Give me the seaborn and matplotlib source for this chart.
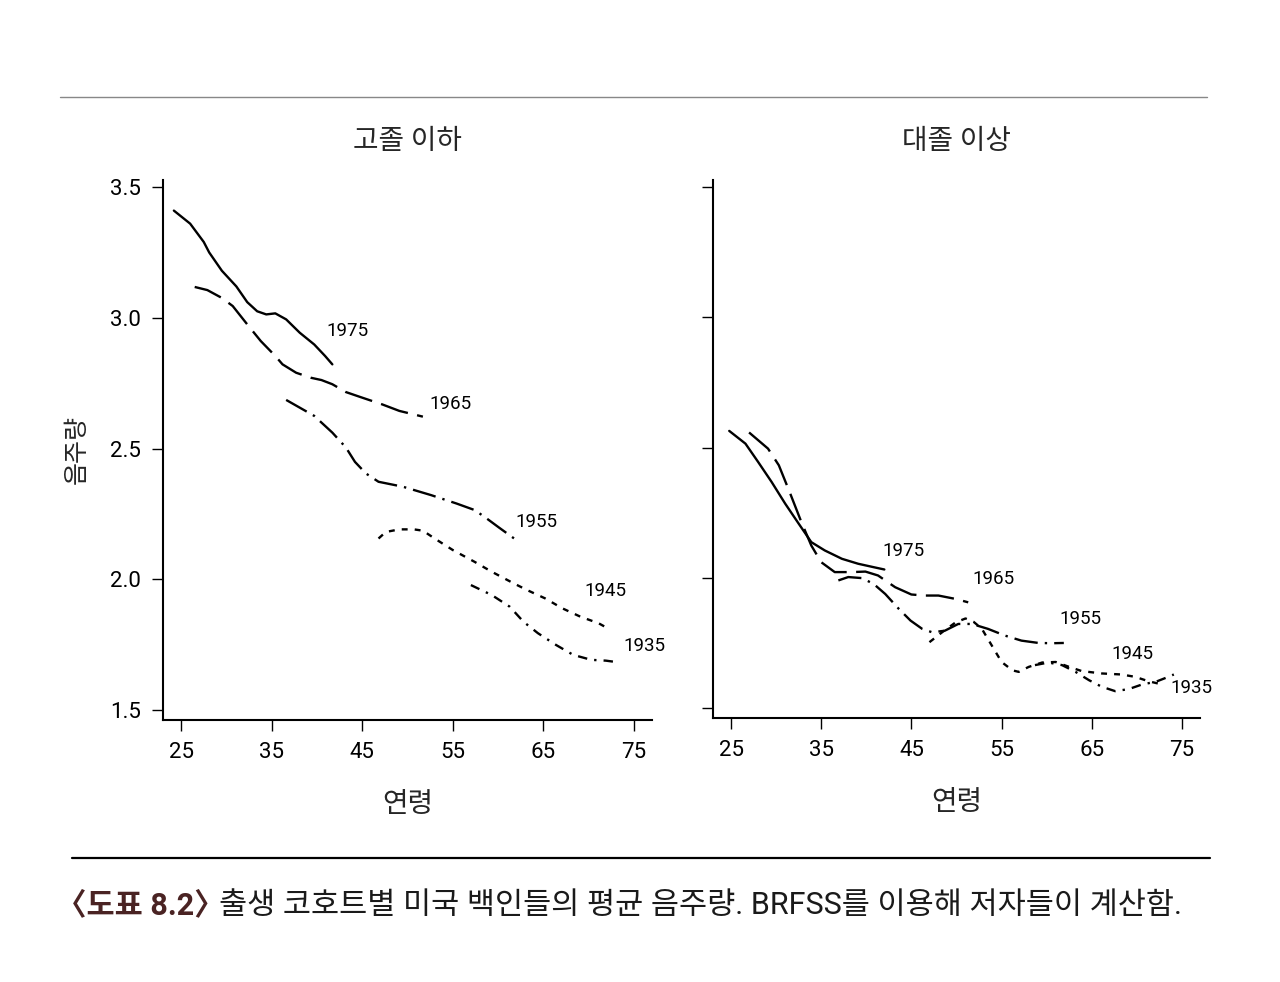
import numpy as np
import pandas as pd
import matplotlib.pyplot as plt
import seaborn as sns

# 출생 코호트별 평균 음주량
cohorts = ["1975", "1965", "1955", "1945", "1935"]

# 고졸 이하
hs_age_1975 = [24.2, 26.0, 27.5, 28.1, 29.5, 31.1, 32.3, 33.4, 34.4, 35.4, 36.6, 38.1, 39.7, 40.9, 41.7]
hs_val_1975 = [3.41, 3.36, 3.29, 3.25, 3.18, 3.12, 3.06, 3.025, 3.013, 3.017, 2.994, 2.943, 2.898, 2.854, 2.822]
hs_age_1965 = [26.5, 27.9, 29.5, 30.7, 32.3, 33.8, 35.4, 36.2, 37.7, 39.3, 40.5, 41.7, 43.2, 44.8, 47.2, 49.1, 51.7]
hs_val_1965 = [3.118, 3.106, 3.076, 3.045, 2.975, 2.911, 2.854, 2.822, 2.79, 2.771, 2.762, 2.746, 2.716, 2.697, 2.669, 2.644, 2.622]
hs_age_1955 = [36.6, 39.7, 41.7, 43.2, 44.2, 45.4, 46.8, 49.5, 52.6, 55.4, 57.4, 58.5, 60.1, 61.9]
hs_val_1955 = [2.686, 2.625, 2.561, 2.504, 2.449, 2.405, 2.373, 2.354, 2.322, 2.29, 2.265, 2.239, 2.198, 2.153]
hs_age_1945 = [46.8, 47.6, 49.1, 50.7, 51.7, 53.0, 55.0, 57.4, 59.3, 61.7, 63.2, 65.2, 67.1, 69.1, 71.1, 72.1]
hs_val_1945 = [2.156, 2.181, 2.191, 2.191, 2.186, 2.156, 2.112, 2.067, 2.029, 1.985, 1.959, 1.927, 1.889, 1.857, 1.832, 1.813]
hs_age_1935 = [57.0, 59.3, 61.3, 62.8, 64.4, 66.4, 68.3, 70.3, 71.9, 73.4]
hs_val_1935 = [1.978, 1.94, 1.895, 1.838, 1.794, 1.749, 1.711, 1.692, 1.689, 1.682]

# 대졸 이상
col_age_1975 = [24.8, 26.6, 28.0, 29.5, 31.0, 32.5, 33.9, 35.4, 37.3, 39.1, 40.8, 42.0]
col_val_1975 = [2.564, 2.515, 2.445, 2.368, 2.285, 2.208, 2.137, 2.105, 2.073, 2.054, 2.041, 2.032]
col_age_1965 = [27.0, 29.1, 30.3, 31.5, 32.8, 33.9, 35.0, 36.5, 38.4, 39.9, 41.3, 43.2, 45.0, 46.5, 48.0, 49.9, 51.3]
col_val_1965 = [2.558, 2.496, 2.432, 2.329, 2.214, 2.124, 2.06, 2.022, 2.022, 2.024, 2.009, 1.964, 1.936, 1.932, 1.932, 1.919, 1.906]
col_age_1955 = [36.9, 38.0, 39.5, 40.8, 42.1, 43.6, 44.9, 46.2, 47.3, 48.7, 50.2, 51.7, 53.5, 55.4, 57.2, 59.1, 60.6, 61.9]
col_val_1955 = [1.99, 2.003, 1.999, 1.977, 1.938, 1.881, 1.836, 1.804, 1.791, 1.797, 1.823, 1.823, 1.804, 1.778, 1.759, 1.75, 1.749, 1.75]
col_age_1945 = [47.0, 48.4, 49.9, 51.0, 51.9, 52.8, 53.9, 55.0, 56.2, 56.9, 58.0, 59.5, 61.0, 62.5, 63.9, 66.1, 68.3, 69.8, 71.3, 72.4]
col_val_1945 = [1.753, 1.791, 1.829, 1.844, 1.831, 1.805, 1.741, 1.677, 1.645, 1.639, 1.658, 1.675, 1.677, 1.658, 1.642, 1.633, 1.629, 1.62, 1.603, 1.594]
col_age_1935 = [58.7, 60.2, 61.7, 63.2, 64.7, 66.1, 67.6, 69.1, 70.6, 72.1, 73.2, 74.1]
col_val_1935 = [1.665, 1.675, 1.665, 1.639, 1.607, 1.582, 1.565, 1.573, 1.591, 1.601, 1.616, 1.629]

hs = {"1975": (hs_age_1975, hs_val_1975), "1965": (hs_age_1965, hs_val_1965),
      "1955": (hs_age_1955, hs_val_1955), "1945": (hs_age_1945, hs_val_1945),
      "1935": (hs_age_1935, hs_val_1935)}
col = {"1975": (col_age_1975, col_val_1975), "1965": (col_age_1965, col_val_1965),
       "1955": (col_age_1955, col_val_1955), "1945": (col_age_1945, col_val_1945),
       "1935": (col_age_1935, col_val_1935)}

x_ticks = [25, 35, 45, 55, 65, 75]
y_ticks = [1.5, 2.0, 2.5, 3.0, 3.5]


def to_frame(d):
    rows = []
    for c, (a, v) in d.items():
        for ai, vi in zip(a, v):
            rows.append({"age": ai, "drink": vi, "cohort": c})
    return pd.DataFrame(rows)


sns.set_theme(style="ticks")
plt.rcParams["font.family"] = ["Roboto", "Noto Sans CJK KR", "DejaVu Sans"]

dash_styles = {"1975": "", "1965": (12, 4), "1955": (10, 3, 1, 3),
               "1945": (2.5, 3), "1935": (4, 3, 1, 3)}
black = {c: "black" for c in cohorts}

# 라벨 위치 (선 끝에서의 픽셀 오프셋)
hs_offsets = {"1975": (15, 33), "1965": (28, 13), "1955": (21, 17), "1945": (-2, 37), "1935": (25, 16)}
col_offsets = {"1975": (19, 18), "1965": (25, 23), "1955": (17, 24), "1945": (-26, 30), "1935": (18, -14)}

fig = plt.figure(figsize=(12.8, 9.82), dpi=100)
ax1 = fig.add_axes([163 / 1280, 1 - 720 / 982, 489 / 1280, 540 / 982])
ax2 = fig.add_axes([713 / 1280, 1 - 718 / 982, 487 / 1280, 538 / 982])

for ax, d, offs, title in [(ax1, hs, hs_offsets, "고졸 이하"), (ax2, col, col_offsets, "대졸 이상")]:
    df = to_frame(d)
    sns.lineplot(data=df, x="age", y="drink", hue="cohort", style="cohort",
                 hue_order=cohorts, style_order=cohorts, palette=black,
                 dashes=dash_styles, linewidth=1.7, estimator=None, sort=True,
                 legend=False, ax=ax)
    for c in cohorts:
        a, v = d[c]
        ax.annotate(c, (a[-1], v[-1]), xytext=offs[c], textcoords="offset pixels",
                    ha="center", va="center", fontsize=13.5, color="black")
    ax.set_xlim(23, 77)
    ax.set_ylim(1.462, 3.527)
    ax.set_xticks(x_ticks)
    ax.set_yticks(y_ticks)
    ax.set_xlabel("연령", fontsize=20, labelpad=20)
    ax.set_title(title, fontsize=20, pad=22)
    sns.despine(ax=ax)
    for s in ["left", "bottom"]:
        ax.spines[s].set_linewidth(1.5)
        ax.spines[s].set_color("black")
    ax.tick_params(axis="both", direction="out", length=8, width=1, colors="black",
                   labelsize=16, pad=8)

ax1.set_ylabel("음주량", fontsize=18, labelpad=15)
ax2.set_ylabel("")
ax2.set_yticklabels([])

# 위, 아래 가로줄
fig.add_artist(plt.Line2D([60 / 1280, 1207 / 1280], [1 - 97 / 982, 1 - 97 / 982],
                          color="#888888", linewidth=1))
fig.add_artist(plt.Line2D([72 / 1280, 1210 / 1280], [1 - 858 / 982, 1 - 858 / 982],
                          color="black", linewidth=1.6))

# 캡션
t1 = fig.text(56 / 1280, 1 - 905 / 982, "〈도표 8.2〉", fontsize=22, fontweight="bold",
              color="#4a2323", va="center", ha="left")
fig.canvas.draw()
bb = t1.get_window_extent(renderer=fig.canvas.get_renderer())
fig.text((bb.x1 - 6) / 1280, 1 - 905 / 982,
         "출생 코호트별 미국 백인들의 평균 음주량. BRFSS를 이용해 저자들이 계산함.",
         fontsize=22, color="#1a1a1a", va="center", ha="left")

fig.savefig("out.png", dpi=100)
